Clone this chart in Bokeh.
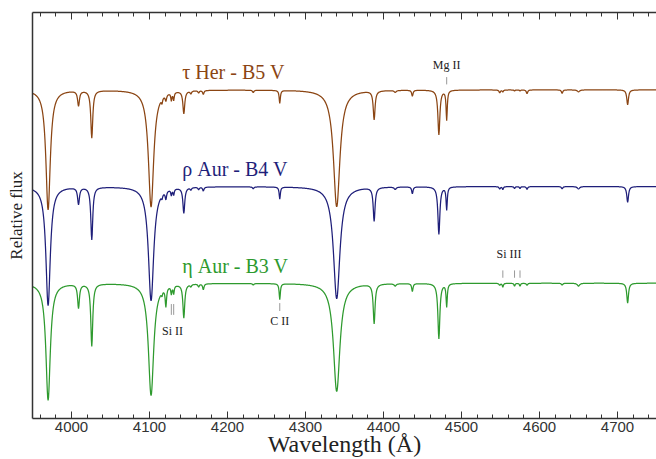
import numpy as np
from bokeh.plotting import figure
from bokeh.models import (Range1d, LinearAxis, SingleIntervalTicker, FixedTicker,
                          CustomJSTickFormatter)
from bokeh.core.properties import value
from bokeh.embed import file_html
from bokeh.resources import INLINE

# ---------------- data ----------------
star_names = ["τ Her - B5 V", "ρ Aur - B4 V", "η Aur - B3 V"]
star_colors = ["#8b4513", "#1f1f7a", "#2e9a2e"]
star_offsets = [1.0, 0.5, 0.0]

# absorption lines: centre (Å) and half width (Å)
line_centers = [3970, 4009, 4026, 4102, 4121, 4128, 4131, 4144, 4169, 4267,
                4340, 4388, 4437, 4471, 4481, 4553, 4568, 4575, 4713,
                4116, 4153, 4163, 4233, 4415, 4549, 4584, 4629, 4650]
line_halfwidths = [3.4, 1.4, 1.5, 4.1, 1.0, 0.8, 0.8, 1.4, 1.0, 0.9,
                   5.0, 1.4, 1.0, 1.5, 0.9, 0.8, 0.8, 0.8, 1.3,
                   0.8, 1.0, 1.0, 1.0, 1.5, 1.0, 1.0, 1.0, 1.8]
# central depths (fraction of continuum) per star
depth_tau_her = [0.62, 0.077, 0.246, 0.605, 0.031, 0.040, 0.040, 0.118, 0.020, 0.067,
                 0.605, 0.149, 0.031, 0.231, 0.154, 0.010, 0.005, 0.005, 0.077,
                 0.025, 0.015, 0.012, 0.012, 0.010, 0.015, 0.020, 0.018, 0.010]
depth_rho_aur = [0.615, 0.087, 0.272, 0.590, 0.041, 0.031, 0.031, 0.133, 0.020, 0.062,
                 0.580, 0.174, 0.036, 0.246, 0.118, 0.015, 0.010, 0.010, 0.082,
                 0.020, 0.012, 0.012, 0.010, 0.012, 0.012, 0.014, 0.012, 0.012]
depth_eta_aur = [0.605, 0.123, 0.323, 0.580, 0.097, 0.041, 0.041, 0.174, 0.031, 0.082,
                 0.560, 0.205, 0.041, 0.287, 0.118, 0.020, 0.015, 0.015, 0.103,
                 0.020, 0.012, 0.015, 0.008, 0.012, 0.010, 0.010, 0.010, 0.015]
star_depths = [depth_tau_her, depth_rho_aur, depth_eta_aur]

# line identifications
ident_labels = ["Mg II", "Si III", "Si II", "C II"]
ident_label_wl = [4481, 4561, 4129.5, 4267]
ident_tick_wl = [[4481], [4553, 4568, 4575], [4128, 4131], [4267]]
ident_star = [0, 2, 2, 2]
ident_above = [True, True, False, False]

wl_start, wl_end = 3950, 4750

# ---------------- model spectra ----------------
wl = np.arange(wl_start, wl_end + 0.25, 0.5)

def spectrum(depths):
    f = np.ones_like(wl)
    for c, g, d in zip(line_centers, line_halfwidths, depths):
        f -= d / (1.0 + ((wl - c) / g) ** 2)
    return f

serif = value("Liberation Serif")

p = figure(width=656, height=459, output_backend="svg", toolbar_location=None,
           x_range=Range1d(wl_start, wl_end), y_range=Range1d(0.30, 2.40),
           min_border_left=32, min_border_right=0, min_border_top=12,
           min_border_bottom=30)
p.outline_line_color = None
p.grid.visible = False
p.background_fill_color = "white"
p.border_fill_color = "white"

for name, col, off, dep in zip(star_names, star_colors, star_offsets, star_depths):
    p.line(wl, spectrum(dep) + off, line_color=col, line_width=1.25)
    p.text(x=[4142], y=[1.0 + off + 0.09], text=[name], text_color=col,
           text_font=serif, text_font_size="20px",
           text_align="left", text_baseline="middle")

for lab, lwl, ticks, si, above in zip(ident_labels, ident_label_wl, ident_tick_wl,
                                      ident_star, ident_above):
    base = 1.0 + star_offsets[si]
    if above:
        y0, y1, ylab = base + 0.028, base + 0.066, base + 0.128
        if lab == "Si III":
            ylab = base + 0.153
    else:
        y0, y1, ylab = base - 0.108, base - 0.164, base - 0.246
        if lab == "C II":
            y0, y1, ylab = base - 0.103, base - 0.144, base - 0.195
    p.segment(x0=ticks, y0=[y0] * len(ticks), x1=ticks, y1=[y1] * len(ticks),
              line_color="#999999", line_width=1)
    p.text(x=[lwl], y=[ylab], text=[lab], text_color="#222222",
           text_font=serif, text_font_size="12px",
           text_align="center", text_baseline="middle")

def style_ticks(ax):
    ax.major_tick_in = 7
    ax.major_tick_out = 0
    ax.minor_tick_in = 4
    ax.minor_tick_out = 0
    ax.axis_line_color = "#333333"
    ax.axis_line_width = 1.5
    ax.major_tick_line_color = "#333333"
    ax.minor_tick_line_color = "#333333"

xa = p.xaxis[0]
xa.ticker = SingleIntervalTicker(interval=100, num_minor_ticks=5)
xa.axis_label = "Wavelength (Å)"
xa.axis_label_text_font = "Liberation Serif"
xa.axis_label_text_font_size = "24px"
xa.axis_label_text_font_style = "normal"
xa.axis_label_text_color = "#222222"
xa.axis_label_standoff = -4
xa.major_label_text_font = "Liberation Sans"
xa.major_label_text_font_size = "15px"
xa.major_label_text_color = "#333333"
xa.major_label_standoff = 3
style_ticks(xa)

top = LinearAxis(ticker=SingleIntervalTicker(interval=100, num_minor_ticks=5),
                 formatter=CustomJSTickFormatter(code="return ''"))
top.major_label_standoff = 0
style_ticks(top)
p.add_layout(top, "above")

ya = p.yaxis[0]
ya.ticker = FixedTicker(ticks=[])
ya.axis_label = "Relative flux"
ya.axis_label_text_font = "Liberation Serif"
ya.axis_label_text_font_size = "17px"
ya.axis_label_text_font_style = "normal"
ya.axis_label_text_color = "#222222"
ya.axis_label_standoff = 7
ya.major_label_standoff = 0
ya.major_tick_in = 0
ya.major_tick_out = 0
ya.minor_tick_in = 0
ya.minor_tick_out = 0
ya.axis_line_color = "#333333"
ya.axis_line_width = 1.5

open("out.html", "w").write(file_html(p, INLINE))
